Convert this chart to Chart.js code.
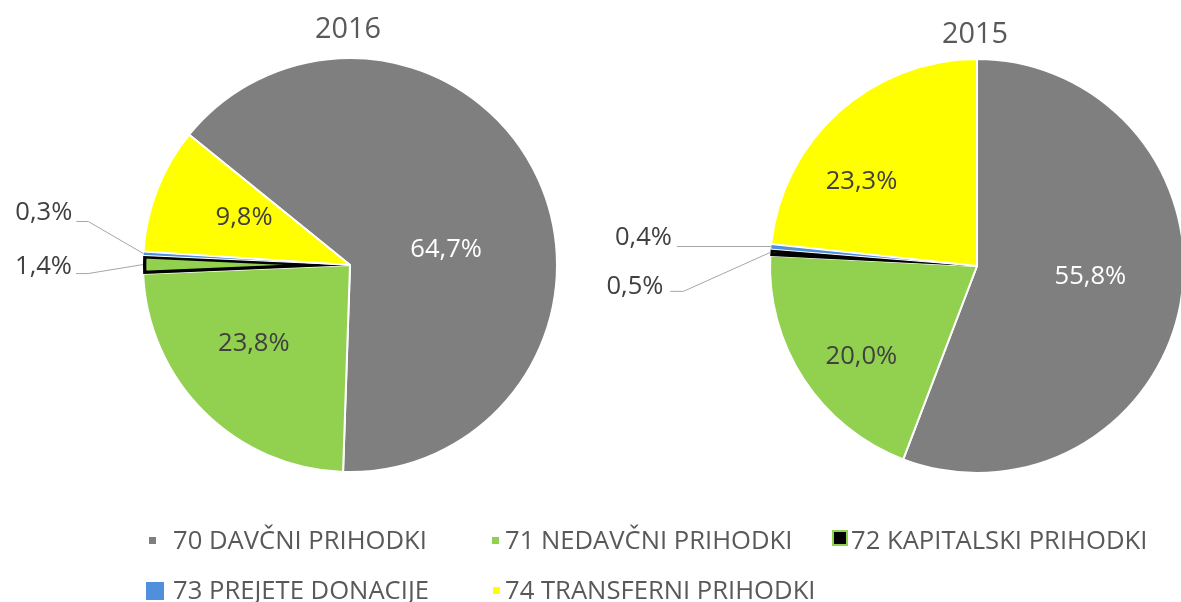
<!DOCTYPE html>
<html>
<head>
<meta charset="utf-8">
<script src="https://cdn.jsdelivr.net/npm/chart.js@4/dist/chart.umd.min.js"></script>
<style>
  html, body { margin: 0; padding: 0; background: #fff; }
  body { width: 1181px; height: 602px; overflow: hidden; position: relative; font-family: "Open Sans", sans-serif; }
  canvas { position: absolute; left: 0; top: 0; }
  .title { position: absolute; color: #595959; white-space: nowrap; transform: translate(-50%, -50%); line-height: 1; }
  .lg { position: absolute; color: #595959; white-space: nowrap; transform: translateY(-50%); line-height: 1; }
  .mk { position: absolute; box-sizing: border-box; }
</style>
</head>
<body>
<canvas id="c2016" width="1181" height="602"></canvas>
<canvas id="c2015" width="1200" height="602"></canvas>
<div id="overlay"></div>
<script>
// ---- data ----
const categories = ["70 DAVČNI PRIHODKI", "71 NEDAVČNI PRIHODKI", "72 KAPITALSKI PRIHODKI", "73 PREJETE DONACIJE", "74 TRANSFERNI PRIHODKI"];
const values2016 = [64.7, 23.8, 1.4, 0.3, 9.8];
const values2015 = [55.8, 20.0, 0.5, 0.4, 23.3];
const chartTitles = ["2016", "2015"];

// ---- styles ----
const FONT = '"Open Sans", sans-serif';
const fillColors = ["#7f7f7f", "#92d050", "#92d050", "#4f8fdc", "#ffff00"];
const borderColors = ["#ffffff", "#ffffff", "#000000", "#ffffff", "#ffffff"];
const borderWidths = [2, 2, 3, 1, 2];
const borderAligns = ["center", "center", "inner", "center", "center"];

function fitSize(text, target) {
  const c = document.createElement("canvas").getContext("2d");
  c.font = "100px " + FONT;
  return 100 * target / c.measureText(text).width;
}
const labelSize = fitSize("0,3%", 57);
const legendSize = fitSize(categories[0], 254);
const titleSize = fitSize("2016", 66);

function fmt(v) { return v.toFixed(1).replace(".", ",") + "%"; }

// label placement (style config): inside labels use angle shift (deg) + radius fraction,
// outside labels use offsets from the slice's edge point
const place2016 = [
  { inside: true, da: 15.5, f: 0.47, color: "#ffffff" },
  { inside: true, da: 6, f: 0.60, color: "#404040" },
  { inside: false, elbow: [-55, 9], end: [-67, 9], text: [-71, 2] },
  { inside: false, elbow: [-55, -32], end: [-67, -32], text: [-71, -41] },
  { inside: true, da: 2.6, f: 0.56, color: "#404040" }
];
const place2015 = [
  { inside: true, da: -5, f: 0.55, color: "#ffffff" },
  { inside: true, da: -5, f: 0.71, color: "#404040" },
  { inside: false, elbow: [-87, 39], end: [-100, 39], text: [-107, 34] },
  { inside: false, elbow: [-94, 0], end: [-94, 0], text: [-99, -9] },
  { inside: true, da: -12, f: 0.69, color: "#404040" }
];

const sliceLabels = {
  id: "sliceLabels",
  afterDatasetsDraw(chart, args, opts) {
    const ctx = chart.ctx;
    const meta = chart.getDatasetMeta(0);
    const vals = chart.data.datasets[0].data;
    ctx.save();
    ctx.font = labelSize.toFixed(2) + "px " + FONT;
    ctx.textBaseline = "middle";
    meta.data.forEach((arc, i) => {
      const p = opts.place[i];
      const { x, y, startAngle, endAngle, outerRadius } = arc.getProps(["x", "y", "startAngle", "endAngle", "outerRadius"], true);
      const mid = (startAngle + endAngle) / 2;
      const txt = fmt(vals[i]);
      if (p.inside) {
        const a = mid + p.da * Math.PI / 180;
        const r = outerRadius * p.f;
        ctx.fillStyle = p.color;
        ctx.textAlign = "center";
        ctx.fillText(txt, x + Math.cos(a) * r, y + Math.sin(a) * r);
      } else {
        const ex = x + Math.cos(mid) * outerRadius, ey = y + Math.sin(mid) * outerRadius;
        ctx.strokeStyle = "#a6a6a6";
        ctx.lineWidth = 1;
        ctx.beginPath();
        ctx.moveTo(ex, ey);
        ctx.lineTo(ex + p.elbow[0], ey + p.elbow[1]);
        ctx.lineTo(ex + p.end[0], ey + p.end[1]);
        ctx.stroke();
        ctx.fillStyle = "#404040";
        ctx.textAlign = "right";
        ctx.fillText(txt, ex + p.text[0], ey + p.text[1]);
      }
    });
    ctx.restore();
  }
};

function makePie(id, values, rotation, padding, place) {
  return new Chart(document.getElementById(id), {
    type: "pie",
    data: {
      labels: categories,
      datasets: [{
        data: values,
        backgroundColor: fillColors,
        borderColor: borderColors,
        borderWidth: borderWidths,
        borderAlign: borderAligns
      }]
    },
    options: {
      responsive: false,
      animation: false,
      rotation: rotation,
      radius: 207,
      layout: { padding: padding },
      plugins: {
        legend: { display: false },
        tooltip: { enabled: false },
        title: { display: false },
        sliceLabels: { place: place }
      }
    },
    plugins: [sliceLabels]
  });
}

makePie("c2016", values2016, -51, { left: 0, right: 481, top: 0, bottom: 72 }, place2016);
makePie("c2015", values2015, 0, { left: 770, right: 16, top: 0, bottom: 70 }, place2015);

// ---- titles & legend (HTML text) ----
const ov = document.getElementById("overlay");
function addTitle(text, cx, cy) {
  const d = document.createElement("div");
  d.className = "title";
  d.style.left = cx + "px"; d.style.top = cy + "px";
  d.style.fontSize = titleSize.toFixed(2) + "px";
  d.textContent = text;
  ov.appendChild(d);
}
addTitle(chartTitles[0], 348, 27);
addTitle(chartTitles[1], 975, 32);

const legendLayout = [
  { tx: 173, cy: 540, mk: { x: 149, y: 537, w: 7, h: 7, bg: fillColors[0], bd: "none" } },
  { tx: 505, cy: 540, mk: { x: 492, y: 537, w: 7, h: 7, bg: fillColors[1], bd: "none" } },
  { tx: 851, cy: 540, mk: { x: 832, y: 530, w: 16, h: 16, bg: "#000000", bd: "2px solid " + fillColors[2] } },
  { tx: 173, cy: 590, mk: { x: 146, y: 582, w: 18, h: 18, bg: fillColors[3], bd: "none" } },
  { tx: 505, cy: 590, mk: { x: 493, y: 587, w: 7, h: 7, bg: fillColors[4], bd: "none" } }
];
legendLayout.forEach((l, i) => {
  const m = document.createElement("div");
  m.className = "mk";
  m.style.left = l.mk.x + "px"; m.style.top = l.mk.y + "px";
  m.style.width = l.mk.w + "px"; m.style.height = l.mk.h + "px";
  m.style.background = l.mk.bg; m.style.border = l.mk.bd;
  ov.appendChild(m);
  const t = document.createElement("div");
  t.className = "lg";
  t.style.left = l.tx + "px"; t.style.top = l.cy + "px";
  t.style.fontSize = legendSize.toFixed(2) + "px";
  t.textContent = categories[i];
  ov.appendChild(t);
});
</script>
</body>
</html>
